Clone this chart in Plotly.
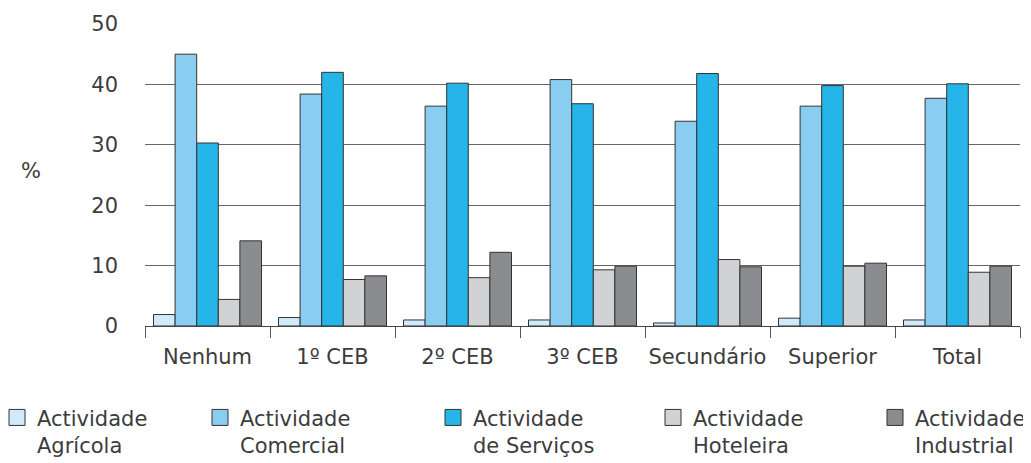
import plotly.graph_objects as go

categories = ["Nenhum", "1º CEB", "2º CEB", "3º CEB", "Secundário", "Superior", "Total"]
agricola = [1.9, 1.4, 1.0, 1.0, 0.5, 1.3, 1.0]
comercial = [45.0, 38.4, 36.4, 40.8, 33.9, 36.4, 37.7]
servicos = [30.3, 42.0, 40.2, 36.8, 41.8, 39.8, 40.1]
hoteleira = [4.4, 7.7, 8.0, 9.3, 11.0, 9.9, 8.9]
industrial = [14.1, 8.3, 12.2, 9.9, 9.8, 10.4, 9.9]

series_names = ["Actividade<br>Agrícola", "Actividade<br>Comercial", "Actividade<br>de Serviços",
                "Actividade<br>Hoteleira", "Actividade<br>Industrial"]
series_values = [agricola, comercial, servicos, hoteleira, industrial]
colors = ["#cfeafa", "#89cdf0", "#25b5e9", "#d1d2d4", "#8b8c90"]
y_ticks = [0, 10, 20, 30, 40, 50]

FONT = "DejaVu Sans"
TXT = "#3c3c3c"
FS = 21
OFF = 8  # page body margin

fig = go.Figure()
for name, vals, col in zip(series_names, series_values, colors):
    fig.add_trace(go.Bar(
        x=categories, y=vals, name=name, showlegend=False,
        marker=dict(color=col, line=dict(color="#333333", width=1)),
    ))

# legend entries (larger square swatches), one legend per item for placement
legend_box_left_px = [10, 213, 446, 666, 888]
L, PW, PH = 145, 875, 302
for i, (name, col) in enumerate(zip(series_names, colors)):
    lg = "legend" if i == 0 else f"legend{i+1}"
    fig.add_trace(go.Scatter(
        x=[None], y=[None], mode="markers", name=name, legend=lg,
        marker=dict(symbol="square", size=18, color=col, line=dict(color="#333333", width=1)),
    ))

legend_common = dict(orientation="v", yanchor="top", y=-0.236, xanchor="left",
                     font=dict(family=FONT, size=FS, color=TXT), valign="top",
                     bgcolor="rgba(0,0,0,0)", itemsizing="trace", tracegroupgap=0)
layout_legends = {}
for i, bl in enumerate(legend_box_left_px):
    key = "legend" if i == 0 else f"legend{i+1}"
    origin = bl - 13
    layout_legends[key] = dict(legend_common, x=(origin - L) / PW)

fig.update_layout(
    width=1031 - OFF, height=463 - OFF,
    margin=dict(l=145 - OFF, r=11, t=24 - OFF, b=137, autoexpand=False),
    paper_bgcolor="white", plot_bgcolor="white",
    barmode="group", bargap=0.136, bargroupgap=0,
    font=dict(family=FONT, size=FS, color=TXT),
    xaxis=dict(
        type="category", tickson="boundaries", ticks="outside", ticklen=11,
        tickcolor="#555555", tickwidth=1, showline=True, linecolor="#444444", linewidth=1.2,
        showgrid=False, tickfont=dict(family=FONT, size=FS, color=TXT),
        ticklabelstandoff=12, tickangle=0,
    ),
    yaxis=dict(
        range=[0, 50], tickvals=y_ticks, showgrid=True, gridcolor="#666666", gridwidth=1.2,
        zeroline=False, showline=False, ticks="", ticklabelstandoff=26,
        tickfont=dict(family=FONT, size=FS, color=TXT),
    ),
    annotations=[dict(text="%", xref="paper", yref="paper", x=(19 - L) / PW, y=0.513,
                      xanchor="left", yanchor="middle", showarrow=False,
                      font=dict(family=FONT, size=FS, color=TXT))],
    **layout_legends,
)

fig.write_html("out.html")
